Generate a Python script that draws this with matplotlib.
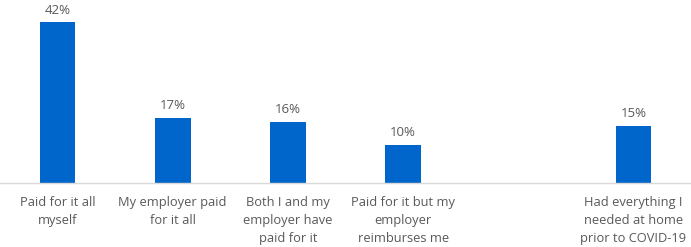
import matplotlib
matplotlib.use("Agg")
import matplotlib.pyplot as plt

# Data
categories = [
    "Paid for it all\nmyself",
    "My employer paid\nfor it all",
    "Both I and my\nemployer have\npaid for it",
    "Paid for it but my\nemployer\nreimburses me",
    "",
    "Had everything I\nneeded at home\nprior to COVID-19",
]
values = [42, 17, 16, 10, None, 15]

bar_color = "#0066CC"
text_color = "#595959"

plt.rcParams["font.family"] = ["Open Sans", "DejaVu Sans"]

fig = plt.figure(figsize=(6.91, 2.47), dpi=100)
ax = fig.add_axes([0.0, 0.259, 1.0, 0.698])

x = list(range(len(categories)))
for xi, v in zip(x, values):
    if v is None:
        continue
    ax.bar(xi, v, width=0.31, color=bar_color)
    ax.annotate(f"{v}%", (xi, v), xytext=(0, 4), textcoords="offset points",
                ha="center", va="bottom", fontsize=9.5, color=text_color)

ax.set_xlim(-0.5, len(categories) - 0.5)
ax.set_ylim(0, 45)
ax.set_xticks(x)
ax.set_xticklabels(categories, fontsize=9.3, color=text_color, linespacing=1.5)
ax.tick_params(axis="x", length=0, pad=9.5)
ax.set_yticks([])
for side in ["top", "left", "right"]:
    ax.spines[side].set_visible(False)
ax.spines["bottom"].set_color("#D9D9D9")
ax.spines["bottom"].set_linewidth(1)
ax.patch.set_alpha(0)

fig.savefig("out.png", dpi=100)
